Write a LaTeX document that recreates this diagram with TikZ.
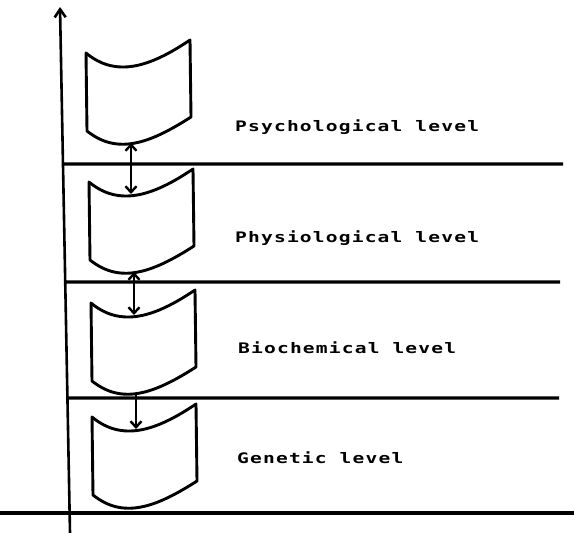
\documentclass[tikz,border=0pt]{standalone}
\usepackage{fontspec}
\usetikzlibrary{arrows.meta,calc}
\newfontfamily\dotfont[LetterSpace=6]{DejaVu Sans Mono}
\tikzset{
  boxline/.style={line width=2.9pt, line join=round},
  levelline/.style={line width=3.2pt},
  axisline/.style={line width=2.6pt},
  dblarrow/.style={line width=2.4pt, {Straight Barb[length=6pt,width=11pt,line width=2.4pt]}-{Straight Barb[length=6pt,width=11pt,line width=2.4pt]}},
  downarrow/.style={line width=2.4pt, -{Straight Barb[length=6pt,width=11pt,line width=2.4pt]}},
  label/.style={anchor=base west, inner sep=0pt, font=\dotfont\bfseries\fontsize{14.5}{16}\selectfont},
  wavebox/.pic={
    \draw[boxline] (0,0) .. controls (30,25) and (64,14) .. (104,-13) -- (105,64)
      .. controls (63,91) and (31,102) .. (1,78) -- cycle;
    \coordinate (-top) at (43,12);
    \coordinate (-bot) at (45,90);
  }
}
\begin{document}
\begin{tikzpicture}[x=1pt,y=-1pt]
\useasboundingbox (0,0) rectangle (574,533);
% axis
\coordinate (axtop) at (60,7);
\coordinate (axbot) at (70,533);
\draw[axisline, -{Straight Barb[length=8pt,width=11pt,line width=2.6pt]}] (axbot) -- (axtop);
% level lines
\coordinate (l1a) at ($(axtop)!{(164-7)/526}!(axbot)$);
\coordinate (l1b) at (563,164);
\coordinate (l2a) at ($(axtop)!{(282-7)/526}!(axbot)$);
\coordinate (l2b) at (560,282);
\coordinate (l3a) at ($(axtop)!{(398-7)/526}!(axbot)$);
\coordinate (l3b) at (559,398);
\coordinate (l4a) at (0,513);
\coordinate (l4b) at (574,513);
\draw[levelline] (l1a) -- (l1b);
\draw[levelline] (l2a) -- (l2b);
\draw[levelline] (l3a) -- (l3b);
\draw[levelline] (l4a) -- (l4b);
% boxes
\pic (b1) at (86,53) {wavebox};
\pic (b2) at (89,182) {wavebox};
\pic (b3) at (91,303) {wavebox};
\pic (b4) at (92,417) {wavebox};
% arrows
\draw[dblarrow] (b1-bot) -- (b1-bot |- b2-top);
\draw[dblarrow] (b2-bot) -- (b2-bot |- b3-top);
\draw[downarrow] (b3-bot) -- (b3-bot |- b4-top);
% labels
\node[label] (t1) at (235,131) {\scalebox{1.35}[1]{Psychological level}};
\node[label] (t2) at (235,242) {\scalebox{1.35}[1]{Physiological level}};
\node[label] (t3) at (238,353) {\scalebox{1.35}[1]{Biochemical level}};
\node[label] (t4) at (237,463) {\scalebox{1.35}[1]{Genetic level}};
\end{tikzpicture}
\end{document}
